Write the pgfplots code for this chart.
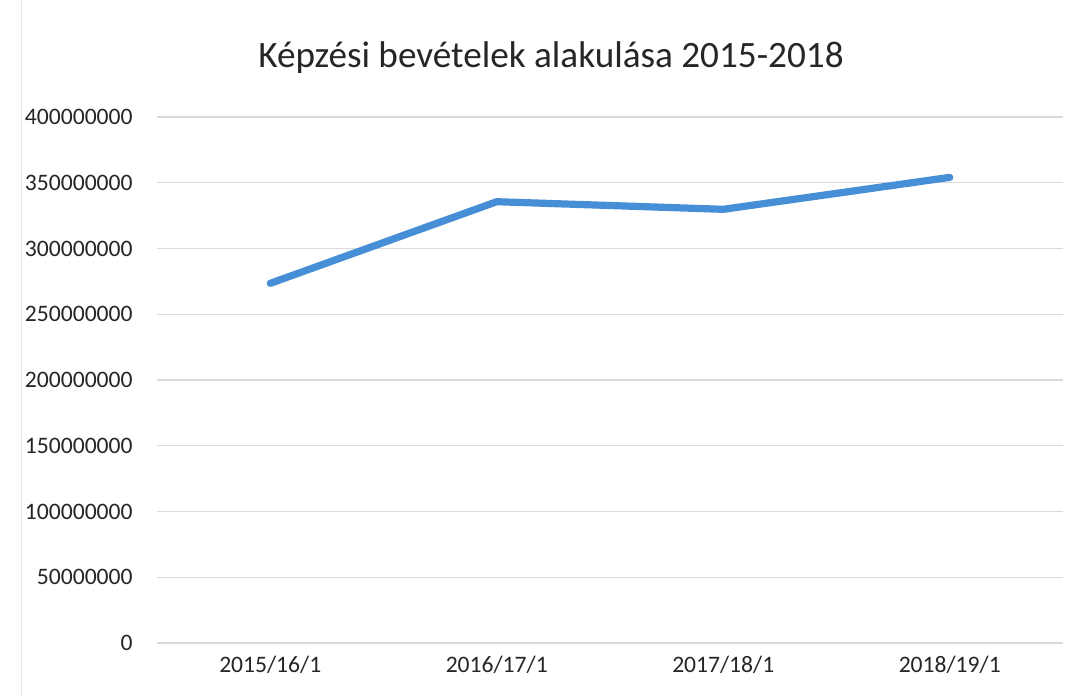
\documentclass[border=0pt]{standalone}
\usepackage{fontspec}
\setmainfont{Carlito}
\usepackage{pgfplots}
\pgfplotsset{compat=1.18}
\definecolor{lineblue}{RGB}{70,142,214}
\definecolor{gridgray}{RGB}{218,218,218}
\begin{document}
\begin{tikzpicture}
\useasboundingbox (-78.5pt,-27pt) rectangle (464pt,321.5pt);
\fill[white] (-78.5pt,-27pt) rectangle (464pt,321.5pt);
\draw[gray!20, line width=0.5pt] (-67.5pt,-27pt) -- (-67.5pt,321.5pt);
\begin{axis}[
  scale only axis,
  width=453pt, height=263pt,
  xmin=-0.5, xmax=3.5,
  ymin=0, ymax=400000000,
  scaled y ticks=false,
  axis line style={draw=none},
  xtick={0,1,2,3},
  xticklabels={2015/16/1,2016/17/1,2017/18/1,2018/19/1},
  ytick={0,50000000,100000000,150000000,200000000,250000000,300000000,350000000,400000000},
  yticklabels={0,50000000,100000000,150000000,200000000,250000000,300000000,350000000,400000000},
  major tick length=0pt,
  ymajorgrids,
  grid style={gridgray, line width=0.6pt},
  tick label style={font=\fontsize{11.8pt}{14pt}\selectfont, text=black!85},
  yticklabel style={inner sep=0pt, xshift=-12pt},
  xticklabel style={inner sep=0pt, yshift=-6.5pt},
  clip=false,
]
\addplot[lineblue, line width=3.6pt, line cap=round, line join=round] coordinates {
  (0,273500000) (1,335600000) (2,329800000) (3,354100000)
};
\end{axis}
\node[font=\fontsize{18.6pt}{22pt}\selectfont, text=black!85] at (197pt,292.5pt) {Képzési bevételek alakulása 2015-2018};
\end{tikzpicture}
\end{document}
